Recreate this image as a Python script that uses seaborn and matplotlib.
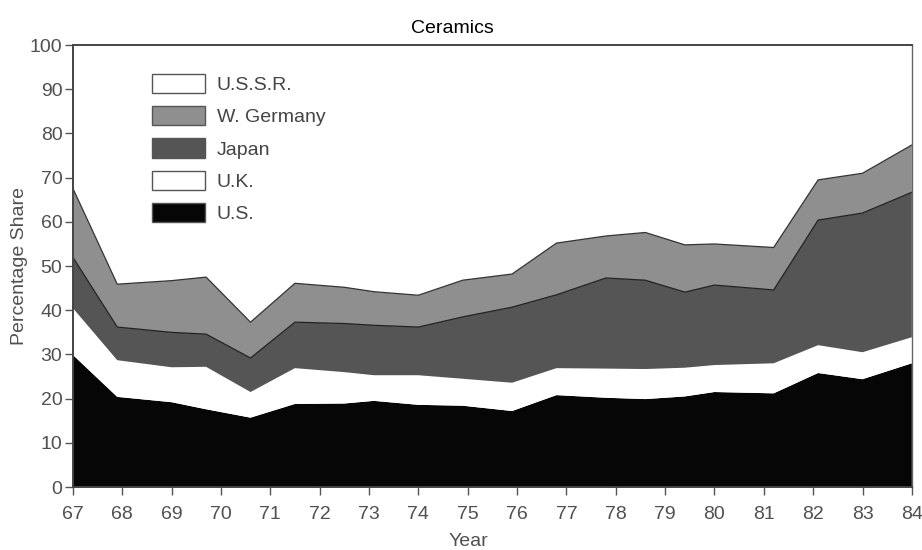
import numpy as np
import seaborn as sns
from matplotlib import pyplot as plt
from matplotlib.patches import Patch

# vertex positions (year) and shares
years = [67, 67.9, 69.0, 69.7, 70.6, 71.5, 72.5, 73.1, 74.0, 74.9,
         75.9, 76.8, 77.8, 78.6, 79.4, 80.0, 81.2, 82.1, 83.0, 84.0]
us = [29.9, 20.4, 19.2, 17.6, 15.7, 18.8, 18.9, 19.5, 18.6, 18.4,
      17.2, 20.8, 20.2, 19.9, 20.5, 21.5, 21.2, 25.8, 24.4, 28.0]
uk = [10.6, 8.3, 7.9, 9.6, 5.8, 8.1, 7.1, 5.8, 6.7, 6.1,
      6.4, 6.1, 6.6, 6.8, 6.5, 6.1, 6.8, 6.3, 6.1, 5.9]
japan = [11.5, 7.5, 7.9, 7.4, 7.7, 10.4, 11.0, 11.3, 10.9, 14.0,
         17.1, 16.6, 20.5, 20.1, 17.1, 18.1, 16.6, 28.3, 31.5, 32.8]
w_germany = [15.6, 9.7, 11.7, 12.9, 8.1, 8.8, 8.2, 7.6, 7.2, 8.3,
             7.5, 11.7, 9.5, 10.8, 10.7, 9.3, 9.6, 9.1, 9.0, 10.7]
ussr = [32.4, 54.1, 53.3, 52.5, 62.7, 53.9, 54.8, 55.8, 56.6, 53.2,
        51.8, 44.8, 43.2, 42.4, 45.2, 45.0, 45.8, 30.5, 29.0, 22.6]

names = ["U.S.", "U.K.", "Japan", "W. Germany", "U.S.S.R."]
colors = ["#060606", "#ffffff", "#555555", "#8f8f8f", "#ffffff"]
tick_years = list(range(67, 85))

sns.set_style("ticks")
plt.rcParams['font.family'] = ['Liberation Sans', 'DejaVu Sans']

fig = plt.figure(figsize=(9.22, 5.5), dpi=100)
ax = fig.add_axes([0.079, 0.1145, 0.91, 0.8035])

ax.stackplot(years, us, uk, japan, w_germany, ussr, colors=colors,
             edgecolor="none")
# edges on top of the grey bands
tops = np.cumsum([us, uk, japan, w_germany], axis=0)
sns.lineplot(x=years, y=tops[2], ax=ax, color="#222222", lw=0.9)
sns.lineplot(x=years, y=tops[3], ax=ax, color="#333333", lw=0.9)

ax.set_xlim(67, 84)
ax.set_ylim(0, 100)
ax.set_xticks(tick_years)
ax.set_xticklabels([str(y) for y in tick_years])
ax.set_yticks(range(0, 101, 10))
ax.tick_params(axis="both", labelsize=14, labelcolor="#505050",
               color="#555555", length=6, width=1, direction="out")
ax.tick_params(axis="x", pad=8)
ax.tick_params(axis="y", pad=1.5)
for side in ["left", "bottom", "top"]:
    ax.spines[side].set_color("#444444")
    ax.spines[side].set_linewidth(1.4)
ax.spines["right"].set_color("#666666")
ax.spines["right"].set_linewidth(1.0)

ax.set_title("Ceramics", fontsize=14, color="black", x=0.452, pad=9)
ax.set_xlabel("Year", fontsize=14, color="#505050", labelpad=0)
ax.xaxis.set_label_coords(0.471, -0.105)
ax.set_ylabel("Percentage Share", fontsize=14, color="#505050", labelpad=1)

handles = [Patch(facecolor=c, edgecolor="#555555", linewidth=1)
           for c in colors]
ax.legend(handles[::-1], names[::-1], loc="upper left",
          bbox_to_anchor=(0.094, 0.935), frameon=False, fontsize=14,
          handlelength=2.75, handleheight=1.15, labelspacing=0.62,
          handletextpad=0.6, borderpad=0, borderaxespad=0,
          labelcolor="#444444")

fig.savefig("out.png", dpi=100)
